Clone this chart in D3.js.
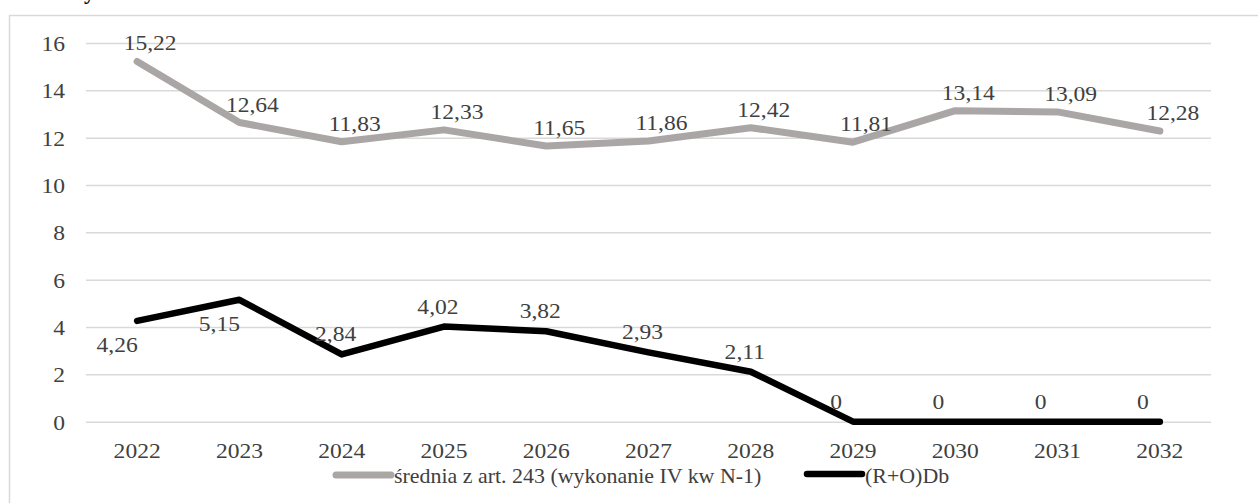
<!DOCTYPE html>
<html>
<head>
<meta charset="utf-8">
<script src="https://cdn.jsdelivr.net/npm/d3@7/dist/d3.min.js"></script>
<style>
  html, body { margin: 0; padding: 0; background: #fff; }
  svg { display: block; }
</style>
</head>
<body>
<svg id="chart" width="1258" height="503"></svg>
<script>
// ---- data ----
const years = ["2022","2023","2024","2025","2026","2027","2028","2029","2030","2031","2032"];
const sredniaValues = [15.22, 12.64, 11.83, 12.33, 11.65, 11.86, 12.42, 11.81, 13.14, 13.09, 12.28];
const roDbValues = [4.26, 5.15, 2.84, 4.02, 3.82, 2.93, 2.11, 0, 0, 0, 0];
const yTicks = [0, 2, 4, 6, 8, 10, 12, 14, 16];
const seriesNames = ["średnia z art. 243 (wykonanie IV kw N-1)", "(R+O)Db"];
const roDbLabelBelow = [true, true, false, false, false, false, false, false, false, false, false];

// ---- font detection (pick first installed serif face) ----
function pickFont() {
  const cands = ["Liberation Serif", "Times New Roman", "Tinos", "DejaVu Serif", "Noto Serif", "Noto Serif CJK SC", "Times", "serif"];
  const ctx = document.createElement("canvas").getContext("2d");
  const probe = "średnia 2022 mmmwwwiiil (R+O)Db";
  const w = f => { ctx.font = "40px " + f; return ctx.measureText(probe).width; };
  for (const c of cands.slice(0, -1)) {
    const a = w(`'${c}', monospace`), b = w("monospace");
    const a2 = w(`'${c}', sans-serif`), b2 = w("sans-serif");
    if (Math.abs(a - b) > 0.5 && Math.abs(a2 - b2) > 0.5) return `'${c}', serif`;
  }
  return "serif";
}
const FONT = pickFont();

// ---- layout ----
const svg = d3.select("#chart");
const plot = { left: 86, right: 1211, top: 43, bottom: 421.7 };
const SX = 1.07; // horizontal text stretch
const grey = "#aaa6a6", black = "#000000", gridCol = "#d9d9d9", textCol = "#404040";

const x = d3.scalePoint().domain(years).range([plot.left, plot.right]).padding(0.5);
const y = d3.scaleLinear().domain([0, 16]).range([plot.bottom, plot.top]);

const fmt = v => String(v).replace(".", ",");

function stext(g, str, tx, ty, size, anchor) {
  return g.append("text")
    .attr("transform", `translate(${tx},${ty}) scale(${SX},1)`)
    .attr("text-anchor", anchor || "middle")
    .style("font-family", FONT)
    .style("font-size", size + "px")
    .style("fill", textCol)
    .text(str);
}

// cut-off heading text above the frame
svg.append("text").attr("x", 84).attr("y", -1)
  .style("font-family", FONT)
  .style("font-size", "22px").style("font-weight", "bold").style("fill", "#000")
  .text("y");

// frame
svg.append("rect").attr("x", 9.5).attr("y", 15.5).attr("width", 1400).attr("height", 600)
  .attr("fill", "none").attr("stroke", gridCol).attr("stroke-width", 1.5);

// gridlines
const yAxis = d3.axisLeft(y).tickValues(yTicks).tickSize(-(plot.right - plot.left)).tickFormat("");
const gy = svg.append("g").attr("transform", `translate(${plot.left},0)`).call(yAxis);
gy.select(".domain").remove();
gy.selectAll(".tick line").attr("stroke", gridCol).attr("stroke-width", 1.5);

// y labels
const yl = svg.append("g");
yTicks.forEach(t => stext(yl, String(t), 65, y(t) + 8, 22, "end"));

// x labels
const xl = svg.append("g");
years.forEach(yr => stext(xl, yr, x(yr), 458, 22, "middle"));

// lines
const line = d3.line().x((d, i) => x(years[i])).y(d => y(d));
svg.append("path").datum(sredniaValues).attr("d", line)
  .attr("fill", "none").attr("stroke", grey).attr("stroke-width", 7)
  .attr("stroke-linecap", "round").attr("stroke-linejoin", "round");
svg.append("path").datum(roDbValues).attr("d", line)
  .attr("fill", "none").attr("stroke", black).attr("stroke-width", 6.5)
  .attr("stroke-linecap", "round").attr("stroke-linejoin", "round");

// data labels
const dl = svg.append("g");
sredniaValues.forEach((v, i) => stext(dl, fmt(v), x(years[i]) + 13, y(v) - 11, 22, "middle"));
roDbValues.forEach((v, i) => {
  if (roDbLabelBelow[i]) stext(dl, fmt(v), x(years[i]) - 20, y(v) + 31, 22, "middle");
  else stext(dl, fmt(v), x(years[i]) - (v === 0 ? 17 : 6), y(v) - 13, 22, "middle");
});

// legend
const lg = svg.append("g");
lg.append("line").attr("x1", 336).attr("x2", 391).attr("y1", 475).attr("y2", 475)
  .attr("stroke", grey).attr("stroke-width", 7).attr("stroke-linecap", "round");
stext(lg, seriesNames[0], 394, 483, 20.5, "start");
lg.append("line").attr("x1", 807).attr("x2", 862).attr("y1", 474).attr("y2", 474)
  .attr("stroke", black).attr("stroke-width", 6.5).attr("stroke-linecap", "round");
stext(lg, seriesNames[1], 865, 483, 20.5, "start");
</script>
</body>
</html>
